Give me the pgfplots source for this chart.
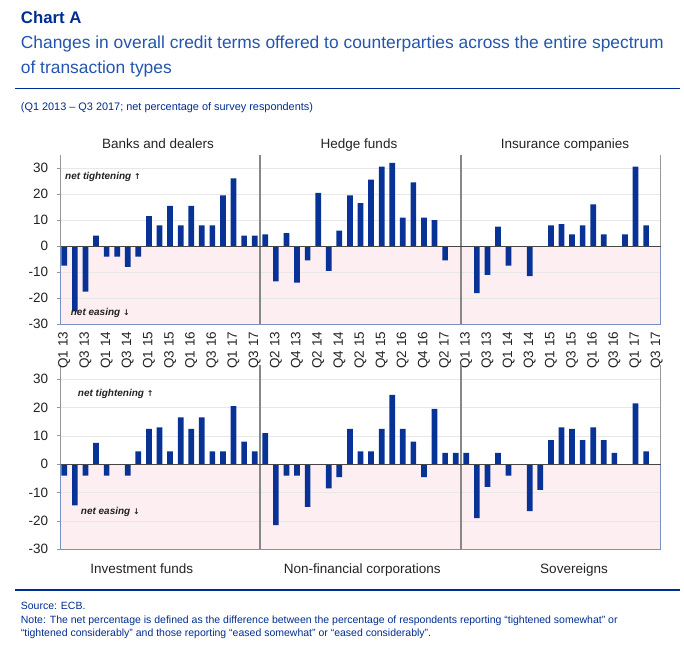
\documentclass[border=0pt]{standalone}
\usepackage{fontspec}
\setmainfont{Liberation Sans}
\newfontfamily\symfont{DejaVu Sans}
\usepackage{pgfplots}
\pgfplotsset{compat=1.18}

\definecolor{ecbblue}{RGB}{0,45,145}
\definecolor{subblue}{RGB}{35,85,175}
\definecolor{barblue}{RGB}{8,50,150}
\definecolor{pinkfill}{RGB}{253,238,242}
\definecolor{pinkedge}{RGB}{120,145,195}
\definecolor{gridgray}{RGB}{232,232,232}
\definecolor{axisgray}{RGB}{150,150,150}
\definecolor{sepgray}{RGB}{135,135,135}
\definecolor{zerogray}{RGB}{70,70,70}
\definecolor{txt}{RGB}{35,35,35}

\newcommand{\tickfont}{\fontsize{13.5}{15}\selectfont}

\pgfplotsset{
  panelrow/.style={
    scale only axis, width=600pt,
    xmin=0.66, xmax=57.38, ymin=-30, ymax=35,
    ytick={-30,-20,...,30},
    xtick={1,3,...,57},
    axis lines*=left,
    x axis line style={draw=none},
    y axis line style={draw=axisgray, line width=0.8pt},
    xtick style={draw=none},
    ytick style={draw=axisgray, line width=0.8pt},
    tick align=outside, major tick length=4pt,
    ymajorgrids, grid style={gridgray, line width=0.7pt},
    ybar, bar width=5.7pt, bar shift=0pt,
    /pgf/number format/assume math mode=true,
    ticklabel style={font=\tickfont, text=txt},
    yticklabel style={xshift=-5pt},
    set layers, clip=false,
  },
  bars/.style={fill=barblue, draw=none},
}

% frame, shading, separators and zero line of one row
\newcommand{\rowframe}{%
  \begin{pgfonlayer}{axis background}
    \fill[pinkfill] (axis cs:0.66,-30) rectangle (axis cs:57.38,0);
  \end{pgfonlayer}
  \draw[axisgray, line width=0.8pt] (axis cs:57.38,0) -- (axis cs:57.38,35);
  \draw[pinkedge, line width=1pt] (axis cs:0.66,0) -- (axis cs:0.66,-30)
     -- (axis cs:57.38,-30) -- (axis cs:57.38,0);
  \draw[sepgray, line width=1.3pt] (axis cs:19.5,-30) -- (axis cs:19.5,35);
  \draw[sepgray, line width=1.3pt] (axis cs:38.5,-30) -- (axis cs:38.5,35);
  \draw[zerogray, line width=1.3pt] (axis cs:0.66,0) -- (axis cs:57.38,0);
}

\newcommand{\notefont}{\fontsize{10.5}{12}\selectfont}
\newcommand{\labfont}{\fontsize{10}{12}\bfseries\itshape\selectfont}

\begin{document}
\begin{tikzpicture}[x=1pt,y=1pt]
\path (0,0) rectangle (684,648);

% headings
\node[anchor=base west, inner sep=0, text=ecbblue, font=\fontsize{16.8}{19}\bfseries\selectfont]
  at (20.7,624) {Chart A};
\node[anchor=base west, inner sep=0, text=subblue, font=\fontsize{17.4}{19}\selectfont]
  at (20.7,599.7) {Changes in overall credit terms offered to counterparties across the entire spectrum};
\node[anchor=base west, inner sep=0, text=subblue, font=\fontsize{17.4}{19}\selectfont]
  at (20.7,574) {of transaction types};
\draw[ecbblue, line width=1.5pt] (15,559.7) -- (680,559.7);
\node[anchor=base west, inner sep=0, text=ecbblue, font=\fontsize{10.9}{12}\selectfont]
  at (20.7,537.3) {(Q1 2013 -- Q3 2017; net percentage of survey respondents)};

% panel titles
\node[anchor=base, inner sep=0, text=txt, font=\fontsize{13.5}{15}\selectfont] at (158,499.7) {Banks and dealers};
\node[anchor=base, inner sep=0, text=txt, font=\fontsize{13.5}{15}\selectfont] at (359,499.7) {Hedge funds};
\node[anchor=base, inner sep=0, text=txt, font=\fontsize{13.5}{15}\selectfont] at (565,499.7) {Insurance companies};

% top row
\begin{axis}[panelrow, height=169.3pt,
  at={(60.7pt,323.7pt)}, anchor=south west,
  xticklabels={Q1 13,Q3 13,Q1 14,Q3 14,Q1 15,Q3 15,Q1 16,Q3 16,Q1 17,Q3 17,
               Q2 13,Q4 13,Q2 14,Q4 14,Q2 15,Q4 15,Q2 16,Q4 16,Q2 17,
               Q1 13,Q3 13,Q1 14,Q3 14,Q1 15,Q3 15,Q1 16,Q3 16,Q1 17,Q3 17},
  xticklabel style={rotate=90, anchor=east},
]
% Banks and dealers
\addplot[bars] coordinates {
  (1,-7.5) (2,-25) (3,-17.5) (4,4) (5,-4) (6,-4) (7,-8) (8,-4) (9,11.5) (10,8)
  (11,15.5) (12,8) (13,15.5) (14,8) (15,8) (16,19.5) (17,26) (18,4) (19,4)};
% Hedge funds
\addplot[bars] coordinates {
  (20,4.5) (21,-13.5) (22,5) (23,-14) (24,-5.5) (25,20.5) (26,-9.5) (27,6) (28,19.5)
  (29,16.5) (30,25.5) (31,30.5) (32,32) (33,11) (34,24.5) (35,11) (36,10) (37,-5.5) (38,0)};
% Insurance companies
\addplot[bars] coordinates {
  (39,0) (40,-18) (41,-11) (42,7.5) (43,-7.5) (44,0) (45,-11.5) (46,0) (47,8)
  (48,8.5) (49,4.5) (50,8) (51,16) (52,4.5) (53,0) (54,4.5) (55,30.5) (56,8) (57,0)};
\rowframe
\node[anchor=base west, inner sep=0, text=txt, font=\labfont] at (axis cs:1.07,25.5)
  {net tightening {\symfont\fontsize{8}{9}\selectfont ↑}};
\node[anchor=base west, inner sep=0, text=txt, font=\labfont] at (axis cs:1.6,-26.8)
  {net easing {\symfont\fontsize{8}{9}\selectfont ↓}};
\end{axis}

% bottom row
\begin{axis}[panelrow, height=184.3pt,
  at={(60.7pt,98.7pt)}, anchor=south west,
  xticklabels={},
]
% Investment funds
\addplot[bars] coordinates {
  (1,-4) (2,-14.5) (3,-4) (4,7.5) (5,-4) (6,0) (7,-4) (8,4.5) (9,12.5) (10,13)
  (11,4.5) (12,16.5) (13,12.5) (14,16.5) (15,4.5) (16,4.5) (17,20.5) (18,8) (19,4.5)};
% Non-financial corporations
\addplot[bars] coordinates {
  (20,11) (21,-21.5) (22,-4) (23,-4) (24,-15) (25,0) (26,-8.5) (27,-4.5) (28,12.5)
  (29,4.5) (30,4.5) (31,12.5) (32,24.5) (33,12.5) (34,8) (35,-4.5) (36,19.5) (37,4) (38,4)};
% Sovereigns
\addplot[bars] coordinates {
  (39,4) (40,-19) (41,-8) (42,4) (43,-4) (44,0) (45,-16.5) (46,-9) (47,8.5)
  (48,13) (49,12.5) (50,8.5) (51,13) (52,8.5) (53,4) (54,0) (55,21.5) (56,4.5) (57,0)};
\rowframe
\node[anchor=base west, inner sep=0, text=txt, font=\labfont] at (axis cs:2.27,23.9)
  {net tightening {\symfont\fontsize{8}{9}\selectfont ↑}};
\node[anchor=base west, inner sep=0, text=txt, font=\labfont] at (axis cs:2.55,-17.9)
  {net easing {\symfont\fontsize{8}{9}\selectfont ↓}};
\end{axis}

% group names below
\node[anchor=base, inner sep=0, text=txt, font=\fontsize{13.5}{15}\selectfont] at (141.7,74.7) {Investment funds};
\node[anchor=base, inner sep=0, text=txt, font=\fontsize{13.5}{15}\selectfont] at (362.3,74.7) {Non-financial corporations};
\node[anchor=base, inner sep=0, text=txt, font=\fontsize{13.5}{15}\selectfont] at (574,74.7) {Sovereigns};

% footer
\draw[ecbblue, line width=1.5pt] (15,58) -- (680,58);
\node[anchor=base west, inner sep=0, text=ecbblue, font=\notefont] at (20.7,39) {Source: ECB.};
\node[anchor=base west, inner sep=0, text=ecbblue, font=\notefont] at (20.7,25)
  {Note: The net percentage is defined as the difference between the percentage of respondents reporting “tightened somewhat” or};
\node[anchor=base west, inner sep=0, text=ecbblue, font=\notefont] at (20.7,12)
  {“tightened considerably” and those reporting “eased somewhat” or “eased considerably”.};
\end{tikzpicture}
\end{document}
